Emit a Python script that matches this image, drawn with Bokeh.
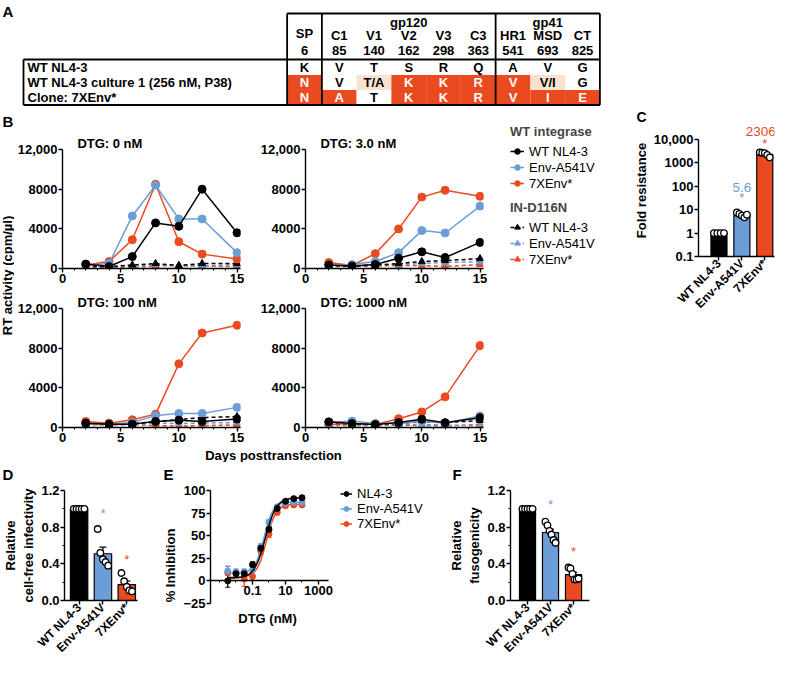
import math
import numpy as np
from bokeh.plotting import figure
from bokeh.models import (Range1d, FixedTicker, SingleIntervalTicker, Legend,
                          LegendItem, ColumnDataSource, Whisker, TeeHead)
from bokeh.layouts import row, column
from bokeh.core.properties import value
from bokeh.embed import file_html
from bokeh.resources import INLINE

FONT = "Liberation Sans"
BLACK = "#000000"
BLUE = "#6B9DD8"
RED = "#EA4A1F"
PEACH = "#F9E2D0"

# ---------------- Panel A data ----------------
regions = ["SP", "C1", "V1", "V2", "V3", "C3", "HR1", "MSD", "CT"]
domains = ["SP", "gp120", "gp120", "gp120", "gp120", "gp120", "gp41", "gp41", "gp41"]
env_positions = ["6", "85", "140", "162", "298", "363", "541", "693", "825"]
row_names = ["WT NL4-3", "WT NL4-3 culture 1 (256 nM, P38)", "Clone: 7XEnv*"]
wt_residues = ["K", "V", "T", "S", "R", "Q", "A", "V", "G"]
culture_residues = ["N", "V", "T/A", "K", "K", "R", "V", "V/I", "G"]
clone_residues = ["N", "A", "T", "K", "K", "R", "V", "I", "E"]

# ---------------- Panel B data ----------------
days = [2, 4, 6, 8, 10, 12, 15]
dtg_titles = ["DTG: 0 nM", "DTG: 3.0 nM", "DTG: 100 nM", "DTG: 1000 nM"]
b_yticks = [0, 4000, 8000, 12000]
b_ylabels = ["0", "4000", "8000", "12,000"]
wt_nl43 = [
    [450, 200, 1200, 4600, 4250, 8000, 3600],
    [350, 250, 400, 1040, 1680, 1100, 2630],
    [440, 340, 340, 610, 740, 610, 850],
    [570, 400, 300, 500, 830, 490, 990],
]
env_a541v = [
    [300, 500, 5300, 8400, 5000, 5000, 1600],
    [300, 400, 700, 1600, 3820, 3580, 6290],
    [340, 340, 500, 1200, 1420, 1420, 2030],
    [500, 650, 400, 400, 600, 450, 1165],
]
env7x = [
    [350, 700, 2900, 8500, 2700, 1450, 950],
    [600, 300, 1500, 3990, 7200, 7890, 7280],
    [610, 440, 780, 1350, 6420, 9530, 10310],
    [300, 400, 300, 890, 1570, 3090, 8260],
]
d116n_wt = [
    [250, 200, 350, 500, 300, 500, 500],
    [300, 250, 350, 500, 700, 800, 1000],
    [400, 350, 400, 600, 800, 1000, 1100],
    [400, 350, 300, 400, 600, 500, 700],
]
d116n_env = [
    [200, 150, 250, 400, 300, 250, 400],
    [250, 300, 300, 400, 500, 600, 700],
    [350, 300, 350, 450, 400, 450, 500],
    [300, 250, 250, 300, 300, 250, 150],
]
d116n_7x = [
    [150, 100, 100, 250, 300, 250, 200],
    [200, 200, 250, 300, 300, 200, 400],
    [300, 250, 300, 200, 150, 200, 250],
    [250, 200, 200, 250, 200, 150, 300],
]
legend_names = ["WT NL4-3", "Env-A541V", "7XEnv*"]

# ---------------- Panel C data ----------------
strains = ["WT NL4-3", "Env-A541V", "7XEnv*"]
fold_mean = [1, 5.6, 2306]
fold_pts = [
    [1, 1, 1, 1],
    [7.6, 6.6, 5.6, 4.7, 6.1],
    [2800, 2700, 2600, 2200, 1700],
]
fold_text = ["", "5.6", "2306"]
c_yticks = [0.1, 1, 10, 100, 1000, 10000]
c_ylabels = ["0.1", "1", "10", "100", "1000", "10,000"]

# ---------------- Panel D data ----------------
infect_pts = [
    [1.0, 1.0, 1.0, 1.0, 1.0],
    [0.78, 0.52, 0.45, 0.42, 0.38],
    [0.30, 0.21, 0.15, 0.11, 0.10],
]
infect_star = [None, 0.95, 0.45]

# ---------------- Panel E data ----------------
dtg_conc = [0.00316, 0.01, 0.0316, 0.1, 0.316, 1.0, 3.16, 10.0, 31.6, 100.0]
inh_nl43 = [0, 8, 8, 18, 36, 57, 80, 88, 91, 92]
inh_env = [11, 10, 10, 12, 38, 65, 82, 86, 87, 87]
inh_7x = [9, 8, 2, 5, 33, 52, 76, 83, 84, 84]
err_nl43 = [7, 3, 4, 3, 3, 3, 2, 2, 2, 2]
err_env = [5, 3, 3, 3, 3, 3, 2, 2, 2, 2]
err_7x = [7, 4, 8, 4, 4, 4, 3, 2, 2, 2]
# fitted four-parameter curves: bottom, top, IC50 (nM), Hill slope
fit_nl43 = [3, 92, 0.60, 1.3]
fit_env = [9, 87, 0.50, 1.6]
fit_7x = [4, 85, 0.70, 1.5]
e_names = ["NL4-3", "Env-A541V", "7XEnv*"]

# ---------------- Panel F data ----------------
fuso_pts = [
    [1.0, 1.0, 1.0, 1.0, 1.0],
    [0.86, 0.82, 0.76, 0.72, 0.66, 0.63],
    [0.36, 0.35, 0.29, 0.23, 0.23, 0.24],
]
fuso_star = [None, 1.05, 0.54]

strain_colors = [BLACK, BLUE, RED]


# ---------------- helpers ----------------
def blank(w, h, xr=None, yr=None, mbl=0, mbt=0):
    xr = xr or (0, w)
    yr = yr or (0, h)
    f = figure(width=w, height=h, x_range=Range1d(*xr), y_range=Range1d(*yr),
               toolbar_location=None, output_backend="svg",
               x_axis_location=None, y_axis_location=None,
               min_border_left=mbl, min_border_right=0, min_border_top=mbt, min_border_bottom=0)
    f.grid.visible = False
    f.outline_line_color = None
    return f


def btext(f, xs, ys, texts, size="13px", bold=True, align="center", baseline="middle",
          angle=0.0, color="black"):
    f.text(x=xs, y=ys, text=texts, text_align=align, text_baseline=baseline, angle=angle,
           text_font=value(FONT), text_font_style="bold" if bold else "normal",
           text_font_size=size, text_color=color)


def style_axes(p, label_size="13px"):
    p.grid.visible = False
    p.outline_line_color = None
    for ax in p.axis:
        ax.axis_line_width = 1.4
        ax.axis_line_color = "black"
        ax.major_tick_line_width = 1.4
        ax.minor_tick_line_width = 1.1
        ax.major_tick_in = 0
        ax.major_tick_out = 4
        ax.minor_tick_in = 0
        ax.minor_tick_out = 2
        ax.major_label_text_font = FONT
        ax.major_label_text_font_style = "bold"
        ax.major_label_text_font_size = label_size
        ax.major_label_text_color = "black"
        ax.major_label_standoff = 1
        ax.axis_label_text_font = FONT
        ax.axis_label_text_font_style = "bold"
        ax.axis_label_text_font_size = "13px"
        ax.axis_label_text_color = "black"
        ax.axis_label_standoff = 2


def offsets(n, spread):
    if n == 1:
        return [0.0]
    return list(np.linspace(-spread, spread, n))


# ---------------- Panel A: table ----------------
pa = blank(779, 108, xr=(0, 779), yr=(108, 0))
TAB_L, COL0, COLW = 23, 304, 34.75
HEAD_T, HEAD_B, ROW_H, ROW0 = 13, 59, 15, 67
ncol = len(regions)
col_x = [COL0 + COLW * i for i in range(ncol)]
lab_r = COL0 - COLW / 2
tab_r = COL0 + COLW * (ncol - 0.5)
sp_r = COL0 + COLW / 2
gp_r = COL0 + COLW * 5.5
tab_b = ROW0 + ROW_H * (len(row_names) - 0.5)

cx, cy, cfill, ctext, ccol = [], [], [], [], []
for r, residues in enumerate([wt_residues, culture_residues, clone_residues]):
    for i, aa in enumerate(residues):
        if aa == wt_residues[i]:
            fill, tc = "white", "black"
        elif "/" in aa:
            fill, tc = PEACH, "black"
        else:
            fill, tc = RED, "white"
        cx.append(col_x[i]); cy.append(ROW0 + ROW_H * r)
        cfill.append(fill); ctext.append(aa); ccol.append(tc)
pa.rect(x=cx, y=cy, width=COLW, height=ROW_H, fill_color=cfill, line_color=None)
btext(pa, cx, cy, ctext, color=ccol)
btext(pa, [TAB_L + 4] * len(row_names), [ROW0 + ROW_H * r for r in range(len(row_names))],
      row_names, align="left")
g120 = [col_x[i] for i in range(ncol) if domains[i] == "gp120"]
g41 = [col_x[i] for i in range(ncol) if domains[i] == "gp41"]
btext(pa, [col_x[0], float(np.mean(g120)), float(np.mean(g41))], [33, 22, 22],
      ["SP", "gp120", "gp41"])
btext(pa, col_x[1:], [35] * (ncol - 1), regions[1:])
btext(pa, col_x, [50] * ncol, env_positions)
sx0 = [lab_r, TAB_L, TAB_L, TAB_L, tab_r, lab_r, sp_r, gp_r]
sy0 = [HEAD_T, HEAD_B, tab_b, HEAD_B, HEAD_T, HEAD_T, HEAD_T, HEAD_T]
sx1 = [tab_r, tab_r, tab_r, TAB_L, tab_r, lab_r, sp_r, gp_r]
sy1 = [HEAD_T, HEAD_B, tab_b, tab_b, tab_b, tab_b, tab_b, tab_b]
pa.segment(x0=sx0, y0=sy0, x1=sx1, y1=sy1, line_color="black", line_width=1.8)
btext(pa, [2], [2], ["A"], size="15px", align="left", baseline="top")

# ---------------- Panel B ----------------
B_YTOP = 12000 * 134 / 119


def b_panel(k, width, mbl, mbr, height, mbt, mbb):
    p = figure(width=width, height=height, x_range=Range1d(0, 15.3),
               y_range=Range1d(0, B_YTOP), toolbar_location=None, output_backend="svg",
               min_border_left=mbl, min_border_right=mbr, min_border_top=mbt,
               min_border_bottom=mbb)
    style_axes(p)
    p.xaxis.ticker = SingleIntervalTicker(interval=5, num_minor_ticks=5)
    p.yaxis.ticker = FixedTicker(ticks=b_yticks)
    p.yaxis.major_label_overrides = dict(zip(b_yticks, b_ylabels))
    p.yaxis.bounds = (0, 12000)
    groups = [
        (d116n_7x[k], RED, "4 3", "triangle", 7),
        (d116n_env[k], BLUE, "4 3", "triangle", 7),
        (d116n_wt[k], BLACK, "4 3", "triangle", 7),
        (env7x[k], RED, "solid", "circle", 8),
        (env_a541v[k], BLUE, "solid", "circle", 8),
        (wt_nl43[k], BLACK, "solid", "circle", 8),
    ]
    for vals, col, dash, mk, sz in groups:
        p.line(days, vals, line_color=col, line_width=1.5, line_dash=dash)
        p.scatter(days, vals, marker=mk, size=sz, fill_color=col, line_color=col)
    btext(p, [1.28], [12000 + 6 * 12000 / 119], [dtg_titles[k]], align="left")
    return p


b1 = b_panel(0, 243, 46, 17, 182, 26, 22)
b2 = b_panel(1, 240, 46, 14, 182, 26, 22)
b3 = b_panel(2, 243, 46, 17, 158, 3, 21)
b4 = b_panel(3, 240, 46, 14, 158, 3, 21)

ylab_b = blank(14, 354)
btext(ylab_b, [2], [354 - 4], ["B"], size="15px", align="left", baseline="top")
btext(ylab_b, [7], [354 - 167], ["RT activity (cpm/\u00b5l)"], angle=math.pi / 2)

xlab_b = blank(483, 14)
btext(xlab_b, [259], [7], ["Days posttransfection"])


def legend_fig(w, h, mbl, mbt, title, xs, series, dash, marker, size, names,
               glyph_w=14, item_h=16, standoff_title=4):
    # renderers hold the real series; the ranges sit away from the data so only the legend shows
    f = blank(w, h, xr=(1000, 1000 + w), yr=(-1000 - h, -1000), mbl=mbl, mbt=mbt)
    items = []
    for nm, col, ys in zip(names, strain_colors, series):
        rl = f.line(xs, ys, line_color=col, line_width=1.5, line_dash=dash)
        rs = f.scatter(xs, ys, marker=marker, size=size, fill_color=col, line_color=col)
        items.append(LegendItem(label=nm, renderers=[rl, rs]))
    leg = Legend(items=items, location="top_left", margin=0, padding=0, spacing=0,
                 glyph_width=glyph_w, glyph_height=item_h, label_height=item_h,
                 label_standoff=5, border_line_color=None, background_fill_alpha=0,
                 label_text_font=FONT, label_text_font_size="13px",
                 label_text_color="black")
    if title:
        leg.title = title
        leg.title_text_font = FONT
        leg.title_text_font_style = "bold"
        leg.title_text_font_size = "13px"
        leg.title_standoff = standoff_title
    f.add_layout(leg)
    return f


leg1 = legend_fig(133, 90, 13, 16, "WT integrase", days,
                  [wt_nl43[0], env_a541v[0], env7x[0]], "solid", "circle", 7, legend_names)
leg2 = legend_fig(133, 264, 13, 2, "IN-D116N", days,
                  [d116n_wt[0], d116n_env[0], d116n_7x[0]], "4 2", "triangle", 7,
                  legend_names)

# ---------------- Panel C ----------------
C_PX_DEC = 23.6                      # pixels per decade on the fold-resistance axis
C_YTOP = 10 ** (4 + 15 / C_PX_DEC)
pc = figure(width=149, height=194, x_range=Range1d(0.106, 3.425),
            y_range=Range1d(0.1, C_YTOP), y_axis_type="log", toolbar_location=None,
            output_backend="svg", min_border_left=66, min_border_right=5, min_border_top=0,
            min_border_bottom=61)
style_axes(pc)
pc.yaxis.ticker = FixedTicker(ticks=c_yticks)
pc.yaxis.major_label_overrides = dict(zip(c_yticks, c_ylabels))
pc.yaxis.bounds = (0.1, 10000)
pc.yaxis.axis_label = "Fold resistance"
pc.xaxis.ticker = FixedTicker(ticks=[1, 2, 3])
pc.xaxis.major_label_overrides = {1: strains[0], 2: strains[1], 3: strains[2]}
pc.xaxis.major_label_orientation = math.pi / 4
pc.xaxis.major_label_text_font_size = "12px"
pc.vbar(x=[1, 2, 3], top=fold_mean, bottom=0.1, width=0.7, fill_color=strain_colors,
        line_color="black", line_width=1.2)
for i, pts in enumerate(fold_pts):
    xs = [i + 1 + o for o in offsets(len(pts), 0.22)]
    pc.scatter(xs, pts, marker="circle", size=6.5, fill_color="white", line_color="black",
               line_width=1.3)
# value labels above bars (the last one nudged left so it stays inside the frame)
btext(pc, [2, 2.82], [92, 10 ** (4 + 8 / C_PX_DEC)], fold_text[1:], size="13.5px",
      bold=False, color=[BLUE, RED])
btext(pc, [2, 3], [33, 7000], ["*", "*"], bold=False, color=[BLUE, RED])

c_strip = blank(149, 16)
btext(c_strip, [11], [8], ["C"], size="14px")


# ---------------- Panels D and F ----------------
def bar_panel(width, mbl, mbr, xr, bar_w, groups, stars, ylabel):
    p = figure(width=width, height=180, x_range=Range1d(*xr), y_range=Range1d(0, 1.2),
               toolbar_location=None, output_backend="svg",
               min_border_left=mbl, min_border_right=mbr, min_border_top=8,
               min_border_bottom=59)
    style_axes(p)
    p.yaxis.ticker = FixedTicker(ticks=[0, 0.4, 0.8, 1.2], minor_ticks=[0.2, 0.6, 1.0])
    p.yaxis.major_label_overrides = {0: "0.0", 0.4: "0.4", 0.8: "0.8", 1.2: "1.2"}
    p.yaxis.axis_label = ylabel
    p.xaxis.ticker = FixedTicker(ticks=[1, 2, 3])
    p.xaxis.major_label_overrides = {1: strains[0], 2: strains[1], 3: strains[2]}
    p.xaxis.major_label_orientation = math.pi / 4
    p.xaxis.major_label_text_font_size = "12px"
    means = [float(np.mean(g)) for g in groups]
    sems = [float(np.std(g, ddof=1) / np.sqrt(len(g))) for g in groups]
    p.vbar(x=[1, 2, 3], top=means, bottom=0, width=bar_w, fill_color=strain_colors,
           line_color="black", line_width=1.2)
    src = ColumnDataSource(dict(x=[2, 3], up=[means[1] + sems[1], means[2] + sems[2]],
                                lo=[means[1] - sems[1], means[2] - sems[2]]))
    p.add_layout(Whisker(source=src, base="x", upper="up", lower="lo", line_color="black",
                         line_width=1.3, upper_head=TeeHead(size=7, line_width=1.3),
                         lower_head=TeeHead(size=7, line_width=1.3)))
    for i, pts in enumerate(groups):
        xs = [i + 1 + o for o in offsets(len(pts), 0.22)]
        p.scatter(xs, pts, marker="circle", size=6.5, fill_color="white", line_color="black",
                  line_width=1.3)
    btext(p, [2, 3], stars[1:], ["*", "*"], bold=False, color=[BLUE, RED])
    return p


pd_ = bar_panel(152, 62, 15, (0.388, 3.45), 0.73, infect_pts, infect_star,
                "Relative\ncell-free infectivity")
pf = bar_panel(153, 64, 10, (0.26, 3.695), 0.7, fuso_pts, fuso_star,
               "Relative\nfusogenicity")

# ---------------- Panel E ----------------
E_XMIN = 2.85e-4
E_PX_DEC = 16.5                      # pixels per decade on the DTG axis
E_XMAX = 10 ** (math.log10(E_XMIN) + 124 / E_PX_DEC)
E_PX_UNIT = 113 / 125                # pixels per % on the inhibition axis
E_YMIN = 100 - 150 / E_PX_UNIT
pe = figure(width=186, height=180, x_range=Range1d(E_XMIN, E_XMAX),
            y_range=Range1d(E_YMIN, 100), x_axis_type="log", toolbar_location=None,
            output_backend="svg", min_border_left=58, min_border_right=4, min_border_top=8,
            min_border_bottom=22)
style_axes(pe)
pe.xaxis.fixed_location = 0
pe.xaxis.bounds = (E_XMIN, 4046)
pe.xaxis.ticker = FixedTicker(ticks=[0.1, 10, 1000], minor_ticks=[0.001, 0.01, 1, 100])
pe.xaxis.major_label_overrides = {0.1: "0.1", 10: "10", 1000: "1000"}
pe.yaxis.ticker = FixedTicker(ticks=[-25, 0, 25, 50, 75, 100])
pe.yaxis.major_label_overrides = {-25: "\u221225"}
pe.yaxis.bounds = (-25, 100)
pe.yaxis.axis_label = "% Inhibition"
xfit = np.logspace(math.log10(dtg_conc[0]), math.log10(dtg_conc[-1]), 150)
e_series = [(inh_7x, err_7x, fit_7x, RED), (inh_env, err_env, fit_env, BLUE),
            (inh_nl43, err_nl43, fit_nl43, BLACK)]
for vals, errs, fit, col in e_series:
    bot, top, ic50, hill = fit
    yfit = bot + (top - bot) / (1 + (ic50 / xfit) ** hill)
    src = ColumnDataSource(dict(x=dtg_conc, up=[v + e for v, e in zip(vals, errs)],
                                lo=[v - e for v, e in zip(vals, errs)]))
    pe.add_layout(Whisker(source=src, base="x", upper="up", lower="lo", line_color=col,
                          line_width=1.2,
                          upper_head=TeeHead(size=5, line_color=col, line_width=1.2),
                          lower_head=TeeHead(size=5, line_color=col, line_width=1.2)))
    pe.line(xfit, yfit, line_color=col, line_width=1.5)
    pe.scatter(dtg_conc, vals, marker="circle", size=6, fill_color=col, line_color=col)
# x-axis title, set just under the tick labels of the axis drawn at y = 0
btext(pe, [10 ** (math.log10(E_XMIN) + 57 / E_PX_DEC)], [100 - 128 / E_PX_UNIT],
      ["DTG (nM)"])

leg_e = legend_fig(108, 180, 2, 4, None, dtg_conc, [inh_nl43, inh_env, inh_7x], "solid",
                   "circle", 6, e_names, glyph_w=12, item_h=15)

letters_def = blank(779, 20)
btext(letters_def, [2, 163, 452], [8, 8, 8], ["D", "E", "F"], size="15px", align="left")

# ---------------- layout ----------------
block_b = column(row(b1, b2), row(b3, b4), xlab_b)
block_bc = row(ylab_b, block_b, column(leg1, leg2), column(row(c_strip), pc))
block_def = column(letters_def, row(pd_, row(pe), row(leg_e), pf))
layout = column(pa, block_bc, block_def)

open("out.html", "w").write(file_html(layout, INLINE))
